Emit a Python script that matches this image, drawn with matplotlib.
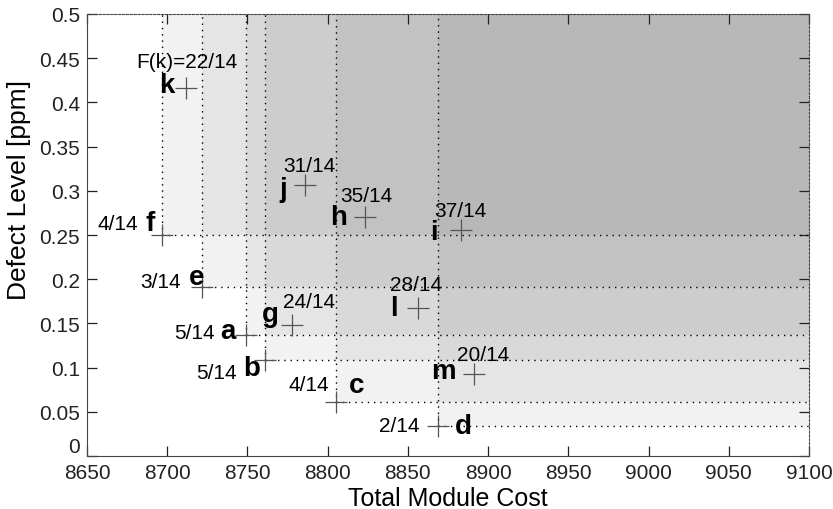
import matplotlib
matplotlib.use('Agg')
import matplotlib.pyplot as plt
from matplotlib.patches import Rectangle

plt.rcParams['font.family'] = ['Liberation Sans', 'DejaVu Sans']

# non-dominated designs (Pareto front)
front_names = ['f', 'e', 'a', 'b', 'c', 'd']
front_cost = [8697, 8722, 8749, 8761, 8805, 8869]
front_defect = [0.250, 0.191, 0.137, 0.109, 0.061, 0.034]
front_frac = ['4/14', '3/14', '5/14', '5/14', '4/14', '2/14']

# dominated designs
dom_names = ['k', 'j', 'h', 'i', 'g', 'l', 'm']
dom_cost = [8712, 8786, 8823, 8883, 8778, 8856, 8891]
dom_defect = [0.416, 0.307, 0.270, 0.256, 0.148, 0.167, 0.093]
dom_frac = ['F(k)=22/14', '31/14', '35/14', '37/14', '24/14', '28/14', '20/14']

x_max, y_max = 9100, 0.5

fig = plt.figure(figsize=(8.33, 5.10), dpi=100)
ax = fig.add_axes([0.1044, 0.1039, 0.8668, 0.8667])

# dominated area of each front point, overlaps get darker
for x, y in zip(front_cost, front_defect):
    ax.add_patch(Rectangle((x, y), x_max - x, y_max - y, facecolor='black',
                           alpha=0.05, edgecolor='none', zorder=1))
    ax.plot([x, x], [y, y_max], color='black', ls=(0, (1, 3.5)), lw=1.0, zorder=2)
    ax.plot([x, x_max], [y, y], color='black', ls=(0, (1, 3.5)), lw=1.0, zorder=2)

all_cost = front_cost + dom_cost
all_defect = front_defect + dom_defect
ax.plot(all_cost, all_defect, ls='none', marker='+', ms=16, mew=0.9,
        color='#555555', zorder=3)

# letter offsets (points) and fraction offsets
letter_off = {'f': (-9, 9), 'e': (-4, 7), 'a': (-13, 3), 'b': (-10, -6),
              'c': (15, 12), 'd': (18, 0), 'k': (-14, 2), 'j': (-16, -3),
              'h': (-19, 0), 'i': (-19, -2), 'g': (-16, 8), 'l': (-17, 0),
              'm': (-22, 2)}
frac_off = {'f': (-32, 8), 'e': (-30, 4), 'a': (-37, 2), 'b': (-35, -9),
            'c': (-19, 13), 'd': (-28, 0), 'k': (0, 19), 'j': (3, 14),
            'h': (1, 16), 'i': (0, 14), 'g': (12, 17), 'l': (-1, 17),
            'm': (7, 14)}

names = front_names + dom_names
fracs = front_frac + dom_frac
for n, fr, x, y in zip(names, fracs, all_cost, all_defect):
    ax.annotate(n, (x, y), xytext=letter_off[n], textcoords='offset points',
                ha='center', va='center', fontsize=20, fontweight='bold', zorder=4)
    ax.annotate(fr, (x, y), xytext=frac_off[n], textcoords='offset points',
                ha='center', va='center', fontsize=15, zorder=4)

ax.set_xlim(8650, x_max)
ax.set_ylim(0, y_max)
ax.set_xticks([8650, 8700, 8750, 8800, 8850, 8900, 8950, 9000, 9050, 9100])
ax.set_yticks([0, 0.05, 0.1, 0.15, 0.2, 0.25, 0.3, 0.35, 0.4, 0.45, 0.5])
ax.set_yticklabels(['0', '0.05', '0.1', '0.15', '0.2', '0.25', '0.3', '0.35',
                    '0.4', '0.45', '0.5'])
ax.tick_params(direction='in', length=7, width=0.9, top=True, right=True,
               labelsize=15, pad=5, colors='#222222')
ax.get_yticklabels()[0].set_va('bottom')
ax.set_xlabel('Total Module Cost', fontsize=18)
ax.set_ylabel('Defect Level [ppm]', fontsize=19)
ax.xaxis.set_label_coords(0.50, -0.068)
ax.yaxis.set_label_coords(-0.077, 0.604)
for s in ['left', 'bottom']:
    ax.spines[s].set_color('#444444')
for s in ['top', 'right']:
    ax.spines[s].set_color('#444444')
    ax.spines[s].set_linestyle((0, (2, 1.5)))

fig.savefig('out.png', dpi=100)
